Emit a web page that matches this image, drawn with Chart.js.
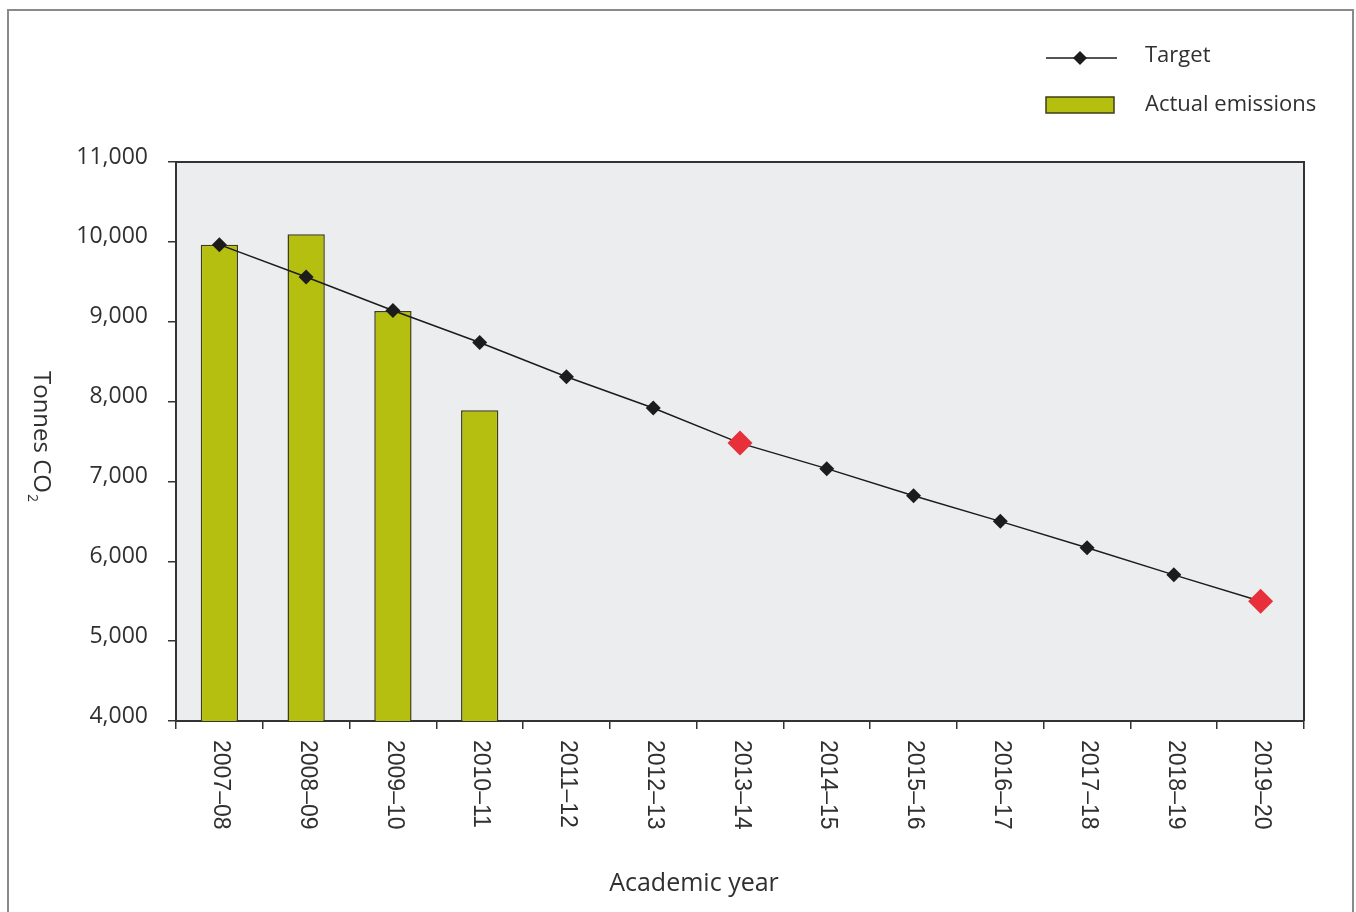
<!DOCTYPE html>
<html>
<head>
<meta charset="utf-8">
<script src="https://cdn.jsdelivr.net/npm/chart.js@4"></script>
<style>
  html, body { margin: 0; padding: 0; background: #ffffff; }
  #wrap { width: 1356px; height: 912px; position: relative; }
</style>
</head>
<body>
<div id="wrap"><canvas id="c" width="1356" height="912"></canvas></div>
<script>
// ---- Data ----
const categories = ['2007–08','2008–09','2009–10','2010–11','2011–12','2012–13','2013–14','2014–15','2015–16','2016–17','2017–18','2018–19','2019–20'];
const targetValues = [9965, 9560, 9140, 8740, 8310, 7920, 7480, 7160, 6820, 6500, 6170, 5830, 5500];
const actualValues = [9965, 10095, 9135, 7890, null, null, null, null, null, null, null, null, null];
const milestoneYears = ['2013–14', '2019–20'];
const yTicks = [4000, 5000, 6000, 7000, 8000, 9000, 10000, 11000];
const seriesNames = ['Target', 'Actual emissions'];
const axisTitles = { x: 'Academic year', y: 'Tonnes CO', ySub: '2' };

// ---- Styles ----
const BAR_FILL = '#B5BF0F';
const BAR_EDGE = '#3E3E16';
const LINE_COL = '#1c1c1c';
const RED = '#E8303A';
const TEXT = '#303030';
const AXIS = '#333333';
const PLOT_BG = '#ECEDEF';
const SANS = '"Open Sans", "Noto Sans", sans-serif';
const XFONT = '"Liberation Sans", Arial, sans-serif';

const isMilestone = categories.map(c => milestoneYears.includes(c));

const decor = {
  id: 'decor',
  beforeDraw(chart) {
    const { ctx, chartArea: a } = chart;
    ctx.save();
    ctx.strokeStyle = '#8a8a8a';
    ctx.lineWidth = 2;
    ctx.beginPath();
    ctx.moveTo(8, 930); ctx.lineTo(8, 10); ctx.lineTo(1353, 10); ctx.lineTo(1353, 930);
    ctx.stroke();
    ctx.fillStyle = PLOT_BG;
    ctx.fillRect(a.left, a.top, a.right - a.left, a.bottom - a.top);
    ctx.restore();
  },
  beforeDatasetsDraw(chart) {
    const { ctx, chartArea: a } = chart;
    ctx.save();
    ctx.strokeStyle = AXIS;
    ctx.lineWidth = 2;
    ctx.beginPath();
    ctx.moveTo(a.left, a.top); ctx.lineTo(a.right, a.top); ctx.lineTo(a.right, a.bottom);
    ctx.stroke();
    ctx.restore();
  },
  afterDraw(chart) {
    const { ctx, chartArea: a } = chart;
    const xs = chart.scales.x;
    ctx.save();
    // x tick labels, rotated clockwise
    ctx.fillStyle = TEXT;
    ctx.font = '23px ' + XFONT;
    ctx.textAlign = 'left';
    ctx.textBaseline = 'middle';
    categories.forEach((lab, i) => {
      const x = xs.getPixelForValue(i);
      ctx.save();
      ctx.translate(x + 1, a.bottom + 19);
      ctx.rotate(Math.PI / 2);
      ctx.fillText(lab, 0, 0);
      ctx.restore();
    });
    // x axis title
    ctx.font = '25px ' + SANS;
    ctx.textAlign = 'center';
    ctx.textBaseline = 'middle';
    ctx.fillText(axisTitles.x, 694, 884);
    // y axis title rotated clockwise with subscript
    ctx.save();
    ctx.translate(41, 436);
    ctx.rotate(Math.PI / 2);
    ctx.font = '24px ' + SANS;
    const w1 = ctx.measureText(axisTitles.y).width;
    ctx.font = '14px ' + SANS;
    const w2 = ctx.measureText(axisTitles.ySub).width;
    const start = -(w1 + w2) / 2;
    ctx.textAlign = 'left';
    ctx.textBaseline = 'middle';
    ctx.font = '24px ' + SANS;
    ctx.fillText(axisTitles.y, start, 0);
    ctx.font = '14px ' + SANS;
    ctx.fillText(axisTitles.ySub, start + w1 + 1, 9);
    ctx.restore();
    // legend
    ctx.strokeStyle = LINE_COL;
    ctx.lineWidth = 1.5;
    ctx.beginPath();
    ctx.moveTo(1046, 58); ctx.lineTo(1117, 58);
    ctx.stroke();
    ctx.fillStyle = LINE_COL;
    ctx.beginPath();
    ctx.moveTo(1080, 51); ctx.lineTo(1087, 58); ctx.lineTo(1080, 65); ctx.lineTo(1073, 58);
    ctx.closePath();
    ctx.fill();
    ctx.fillStyle = BAR_FILL;
    ctx.fillRect(1046, 97, 68, 16);
    ctx.strokeStyle = BAR_EDGE;
    ctx.lineWidth = 1.5;
    ctx.strokeRect(1046, 97, 68, 16);
    ctx.fillStyle = TEXT;
    ctx.font = '22px ' + SANS;
    ctx.textAlign = 'left';
    ctx.textBaseline = 'middle';
    ctx.fillText(seriesNames[0], 1145, 56);
    ctx.fillText(seriesNames[1], 1145, 105);
    ctx.restore();
  }
};

new Chart(document.getElementById('c'), {
  type: 'bar',
  data: {
    labels: categories,
    datasets: [
      {
        type: 'line',
        label: seriesNames[0],
        data: targetValues,
        order: 0,
        borderColor: LINE_COL,
        borderWidth: 1.5,
        tension: 0,
        pointStyle: 'rectRot',
        pointRadius: isMilestone.map(m => m ? 12.5 : 7.5),
        pointBackgroundColor: isMilestone.map(m => m ? RED : LINE_COL),
        pointBorderColor: isMilestone.map(m => m ? RED : LINE_COL),
        pointBorderWidth: 0
      },
      {
        type: 'bar',
        label: seriesNames[1],
        data: actualValues,
        order: 1,
        backgroundColor: BAR_FILL,
        borderColor: BAR_EDGE,
        borderWidth: 1.5,
        barPercentage: 0.43,
        categoryPercentage: 1.0
      }
    ]
  },
  options: {
    responsive: false,
    animation: false,
    layout: { padding: { top: 162, right: 52, left: 0, bottom: 0 } },
    plugins: { legend: { display: false }, tooltip: { enabled: false } },
    scales: {
      x: {
        offset: true,
        grid: { offset: true, drawOnChartArea: false, drawTicks: true, tickLength: 8, color: AXIS, lineWidth: 1.5 },
        border: { color: AXIS, width: 2 },
        ticks: { color: 'rgba(0,0,0,0)', autoSkip: false, maxRotation: 90, minRotation: 90, font: { size: 23, family: XFONT } },
        afterFit(scale) { scale.height = 191; }
      },
      y: {
        min: 4000,
        max: 11000,
        afterBuildTicks(scale) { scale.ticks = yTicks.map(v => ({ value: v })); },
        grid: { drawOnChartArea: false, drawTicks: true, tickLength: 8, color: AXIS, lineWidth: 1.5 },
        border: { color: AXIS, width: 2 },
        ticks: {
          color: TEXT,
          padding: 20,
          labelOffset: -5,
          font: { size: 23, family: SANS },
          callback: v => v.toLocaleString('en-US')
        },
        afterFit(scale) { scale.width = 176; }
      }
    }
  },
  plugins: [decor]
});
</script>
</body>
</html>
